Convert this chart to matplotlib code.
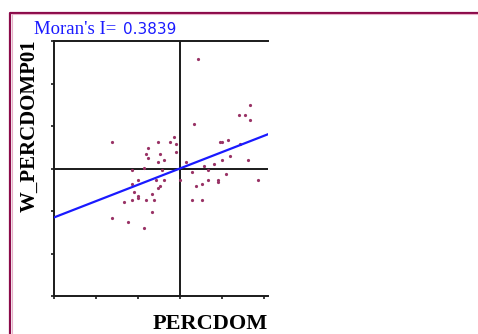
#!/usr/bin/env python3
"""
Moran scatterplot for PERCDOM - recreated in matplotlib, saved as out.png
"""

import matplotlib
matplotlib.use("Agg")
import matplotlib.pyplot as plt
from matplotlib.lines import Line2D
import numpy as np

# standardized PERCDOM (x) and its spatial lag W_PERCDOMP01 (y)
percdom = [-1.61, -0.75, -0.52, -0.23, -0.14, -0.09, -0.80, -0.47, -0.75, -0.37,
           -0.52, -0.09, -1.14, -0.85, -0.42, -0.99, -1.14, -0.56, -0.37, -0.47,
           -0.52, -1.09, -0.99, -0.99, -0.66, -1.14, -0.80, -0.61, -1.33, -0.66,
           -1.61, -1.23, -0.85, 0.01, 0.34, 1.68, 0.96, 1.01, 1.15, 1.44,
           1.20, 1.01, 0.82, 1.63, 0.58, 0.68, 0.15, 0.30, 1.11, 0.67,
           0.91, 0.91, 1.87, 0.39, 0.53, 0.29, 0.53, 0.44, 1.68, 1.40, 1.55]
w_percdom = [0.63, 0.49, 0.63, 0.63, 0.73, 0.58, 0.35, 0.35, 0.25, 0.21,
             0.16, 0.40, -0.03, 0.02, -0.03, -0.26, -0.36, -0.26, -0.26, -0.40,
             -0.45, -0.55, -0.64, -0.69, -0.59, -0.73, -0.73, -0.73, -0.78, -1.02,
             -1.16, -1.25, -1.39, -0.26, 1.05, 1.14, 0.63, 0.63, 0.68, 0.58,
             0.30, 0.21, 0.11, 0.21, 0.07, -0.03, 0.16, -0.08, -0.12, -0.26,
             -0.26, -0.31, -0.26, -0.40, -0.36, -0.73, -0.73, 2.57, 1.49, 1.25, 1.25]
morans_i = 0.3839
x_ticks = [-3, -2, -1, 0, 1, 2]
y_ticks = [-3, -2, -1, 0, 1, 2, 3]

W, H = 478, 334
fig = plt.figure(figsize=(W / 100, H / 100), dpi=100)
fig.patch.set_facecolor("white")

# axes box in pixels: left 54, right 268, top 41, bottom 296
ax = fig.add_axes([54 / W, (H - 296) / H, (268 - 54) / W, (296 - 41) / H])
ax.set_xlim(-3, 2.1)
ax.set_ylim(-3, 3)

for side in ["left", "top", "bottom"]:
    ax.spines[side].set_linewidth(1.4)
    ax.spines[side].set_color("#1a1a1a")
ax.spines["right"].set_visible(False)

ax.set_xticks(x_ticks)
ax.set_yticks(y_ticks)
ax.set_xticklabels([])
ax.set_yticklabels([])
ax.tick_params(direction="out", length=2, width=1.2, color="#1a1a1a")

# quadrant lines
ax.axhline(0, color="#1a1a1a", lw=1.4, zorder=1)
ax.axvline(0, color="#1a1a1a", lw=1.4, zorder=1)

# points
ax.plot(percdom, w_percdom, "o", ms=2.3, mew=0, color="#993366", zorder=2)

# regression line, slope = Moran's I
xs = np.array(ax.get_xlim())
ax.plot(xs, morans_i * xs, color="#1a1aff", lw=1.6, zorder=3)

# texts
fig.text(34 / W, (H - 29) / H, "Moran's I=", color="#1a1aff",
         fontsize=13.5, family="Liberation Serif", ha="left", va="center")
fig.text(123 / W, (H - 29) / H, f"{morans_i:.4f}", color="#1a1aff",
         fontsize=11, family="DejaVu Sans", ha="left", va="center")
fig.text(30 / W, (H - 126) / H, "W_PERCDOMP01", rotation=90, fontsize=15,
         family="Liberation Serif", fontweight="bold", ha="center", va="center")
fig.text(268 / W, (H - 324) / H, "PERCDOM", fontsize=16,
         family="Liberation Serif", fontweight="bold", ha="right", va="center")

# maroon frame on the left and top
fig.add_artist(Line2D([10 / W, 10 / W, 1], [0, (H - 12.5) / H, (H - 12.5) / H],
                      color="#8b0a4a", lw=1.6, transform=fig.transFigure))
fig.add_artist(Line2D([11.5 / W, 11.5 / W, 1], [0, (H - 14) / H, (H - 14) / H],
                      color="#e8b0c8", lw=0.8, transform=fig.transFigure))

fig.savefig("out.png", dpi=100)
